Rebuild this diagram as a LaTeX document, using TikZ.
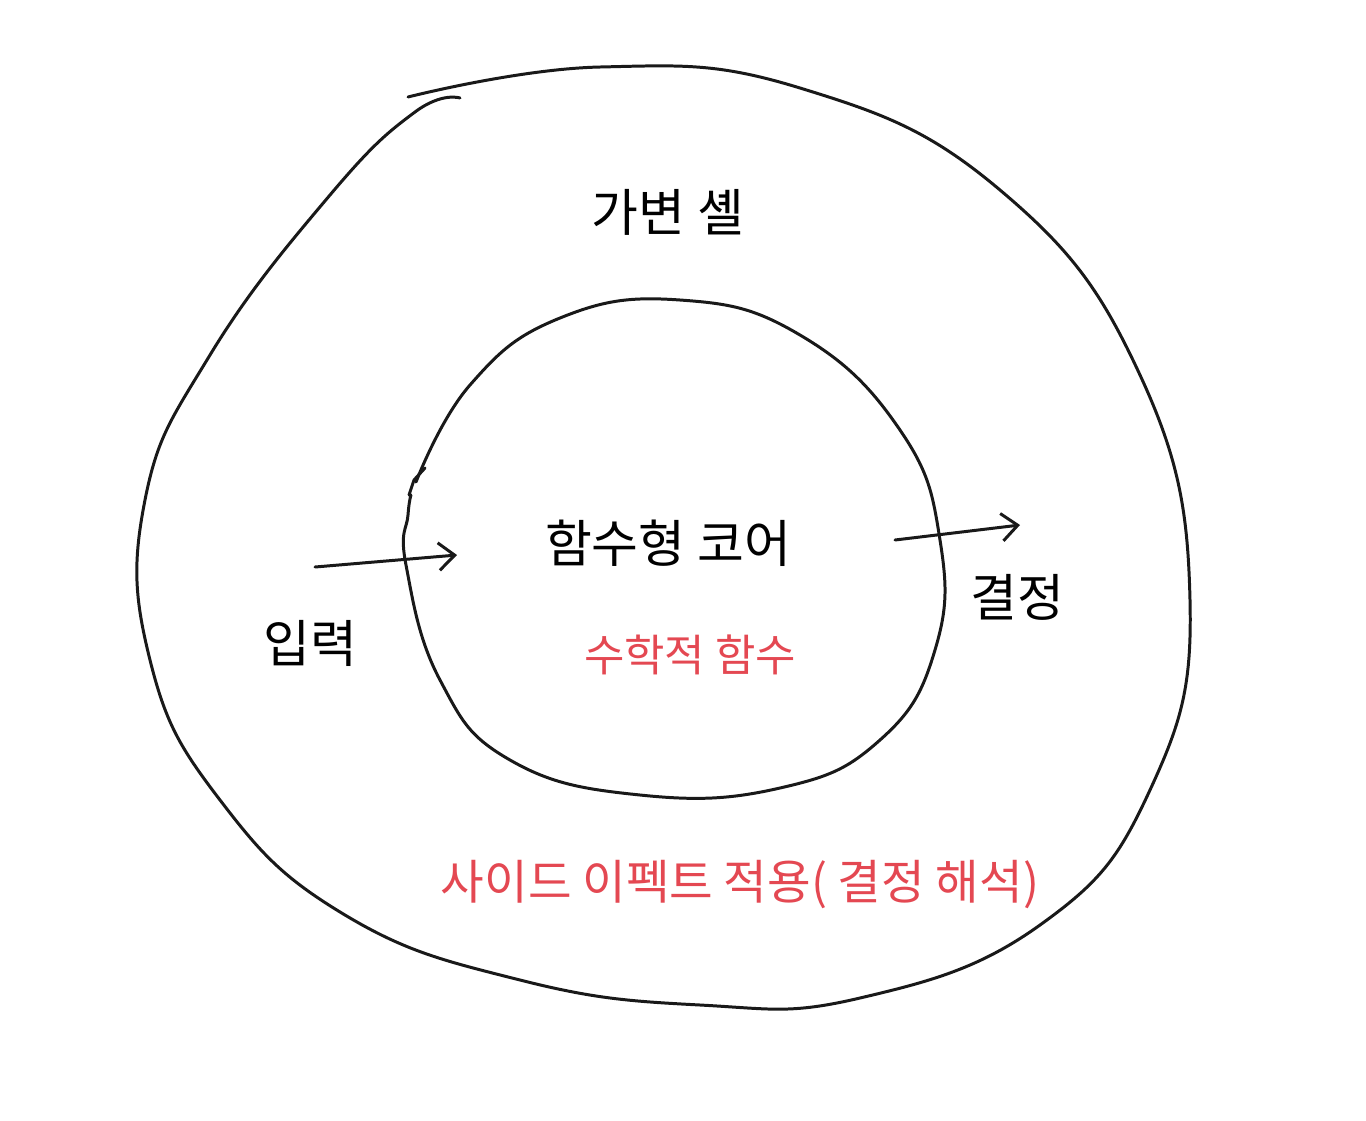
\documentclass[tikz,border=0pt]{standalone}
\usepackage{fontspec}
\newfontfamily\krfont{Noto Sans CJK KR}
\usetikzlibrary{arrows.meta}

\begin{document}
\begin{tikzpicture}[
    x=0.02cm, y=-0.02cm,
    stroke/.style={draw=black!90, line width=1.7pt, line cap=round, line join=round},
    flow/.style={stroke, -{Straight Barb[length=3.2mm, width=5.5mm, line width=1.7pt]}},
    label_black/.style={font=\krfont\fontsize{29}{35}\selectfont, text=black},
    label_red/.style={font=\krfont\fontsize{27}{33}\selectfont, text=sketchred},
]
    \definecolor{sketchred}{RGB}{228,72,82}
    \useasboundingbox[fill=white] (0,0) rectangle (1366,1120);

    % --- OUTER SHELL (hand drawn loop) ---
    \draw[stroke] plot[smooth, tension=0.75] coordinates {
        (408,97) (600,67) (800,88) (1000,190)
        (1140,375) (1190,600) (1150,790)
        (1040,925) (860,998) (700,1005) (520,980)
        (345,915) (220,800) (150,660) (145,500)
        (210,355) (330,195) (415,112) (460,98)};

    % --- INNER CORE ---
    \draw[stroke] plot[smooth, tension=0.75] coordinates {
        (416,482) (470,385) (560,318) (680,300)
        (800,335) (900,430) (940,540) (935,650)
        (880,740) (780,788) (640,795) (510,760)
        (440,680) (406,565) (408,515) (411,495)};
    \draw[stroke] (409,495) -- (414,480) -- (425,468); % loose end

    % --- ARROW ENDS ---
    \coordinate (in_start) at (315,567);
    \coordinate (in_end) at (457,555);
    \coordinate (out_start) at (895,540);
    \coordinate (out_end) at (1020,525);

    % --- LABELS ---
    \node[label_black] (shell) at (668,212) {가변 셸};
    \node[label_black] (core) at (668,543) {함수형 코어};
    \node[label_red, font=\krfont\fontsize{25}{30}\selectfont] (math) at (690,655) {수학적 함수};
    \node[label_black] (input) at (310,643) {입력};
    \node[label_black] (decision) at (1017,597) {결정};
    \node[label_red] (effect) at (740,885) {사이드 이펙트 적용( 결정 해석)};

    % --- FLOW ---
    \draw[flow] (in_start) -- (in_end);
    \draw[flow] (out_start) -- (out_end);

\end{tikzpicture}
\end{document}
